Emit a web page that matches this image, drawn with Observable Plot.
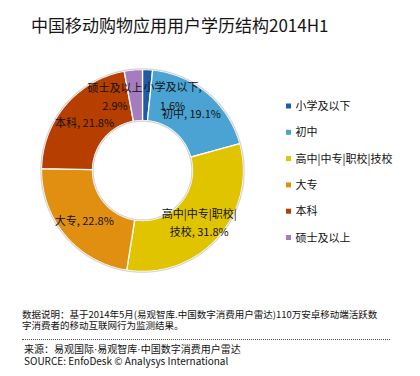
<!DOCTYPE html>
<html>
<head>
<meta charset="utf-8">
<script src="https://cdn.jsdelivr.net/npm/d3@7"></script>
<script src="https://cdn.jsdelivr.net/npm/@observablehq/plot@0.6"></script>
<style>
  html, body { margin: 0; padding: 0; background: #fff; }
  body { width: 420px; height: 376px; position: relative; overflow: hidden;
         font-family: "Noto Sans CJK SC", "Noto Sans", sans-serif; color: #111; }
  #title { position: absolute; left: 31px; top: 16px; font-size: 17px; line-height: 18px; white-space: nowrap; color: #151515; }
  #chart { position: absolute; left: 0; top: 44px; }
  #note { position: absolute; left: 22px; top: 309px; font-size: 9.5px; line-height: 10.5px; white-space: nowrap; }
  #rule { position: absolute; left: 22px; top: 339px; width: 368px; border-top: 1px dotted #555; }
  #source { position: absolute; left: 24px; top: 343px; font-size: 10px; line-height: 11px; white-space: nowrap; }
  .dot { font-family: "Liberation Sans", sans-serif; }
</style>
</head>
<body>
<div id="title"></div>
<div id="chart"></div>
<div id="note"></div>
<div id="rule"></div>
<div id="source"></div>
<script>
// Education level of China's mobile shopping app users, 2014 H1
const titleText = "中国移动购物应用用户学历结构2014H1";
const categories = ["小学及以下", "初中", "高中|中专|职校|技校", "大专", "本科", "硕士及以上"];
const shares = [1.6, 19.1, 31.8, 22.8, 21.8, 2.9];
const colors = ["#1d5ca6", "#4aa3d3", "#e1c400", "#e08f10", "#b63f00", "#a57cbf"];
const noteLines = [
  "数据说明：基于2014年5月(易观智库.中国数字消费用户雷达)110万安卓移动端活跃数",
  "字消费者的移动互联网行为监测结果。"
];
const sourceLines = [
  "来源：易观国际·易观智库·中国数字消费用户雷达",
  "SOURCE: EnfoDesk © Analysys International"
];

document.getElementById("title").textContent = titleText;
document.getElementById("note").innerHTML = noteLines.join("<br>");
// narrow separator dots in the source line
document.getElementById("source").innerHTML = sourceLines
  .map(s => s.replace(/·/g, '<span class="dot">·</span>'))
  .join("<br>");

// Donut geometry, in page pixels (the SVG spans page rows 44..296)
const top0 = 44, svgH = 252, W = 420;
const cx = 142, cy = 170, R = 101, r0 = 50;
const fs = 11;
const total = d3.sum(shares);

let acc = 0;
const slices = categories.map((name, i) => {
  const a0 = acc / total * 2 * Math.PI;
  acc += shares[i];
  const a1 = acc / total * 2 * Math.PI;
  return {name, value: shares[i], a0, a1, mid: (a0 + a1) / 2};
});

const pt = (rad, a) => [cx + rad * Math.sin(a), cy - rad * Math.cos(a)];

// Each slice as a closed ring-sector polygon
const ring = slices.flatMap(s => {
  const n = Math.max(2, Math.ceil((s.a1 - s.a0) / (Math.PI / 180)));
  const pts = [];
  for (let k = 0; k <= n; k++) pts.push(pt(R, s.a0 + (s.a1 - s.a0) * k / n));
  for (let k = n; k >= 0; k--) pts.push(pt(r0, s.a0 + (s.a1 - s.a0) * k / n));
  pts.push(pts[0]);
  return pts.map(([x, y]) => ({name: s.name, x, y}));
});

// Soft edge around the outer rim and the hole
const edge = [R + 0.6, r0 - 0.6].flatMap((rad, j) =>
  d3.range(0, 361, 2).map(deg => {
    const [x, y] = pt(rad, deg * Math.PI / 180);
    return {ring: j, x, y};
  })
);

// Slice labels: "name, value%", wrapped and centred line by line.
// Labels of thin slices sit beside the slice's top edge.
const labelR = 76;
const labels = slices.map(s => {
  const sin = Math.sin(s.mid);
  const pct = `${s.value}%`;
  let text, x;
  if (s.value < 5) {
    const right = sin > 0;
    const first = `${s.name}${right ? "," : ""}`;
    const half = (s.name.length * fs + (right ? 3 : 0)) / 2;
    x = right ? cx + 1 + half : cx - half;
    text = `${first}\n${pct}`;
  } else {
    x = cx + labelR * sin;
    if (s.name.length > 8) {
      const cut = s.name.lastIndexOf("|") + 1;
      text = `${s.name.slice(0, cut)}\n${s.name.slice(cut)}, ${pct}`;
    } else {
      text = `${s.name}, ${pct}`;
    }
  }
  return {text, x, y: cy - labelR * Math.cos(s.mid)};
});

// Legend entries on the right
const legend = categories.map((name, i) => ({name, y: 106 + i * 26.3}));

const chart = Plot.plot({
  width: W,
  height: svgH,
  margin: 0,
  x: {domain: [0, W], axis: null},
  y: {domain: [top0 + svgH, top0], axis: null},
  color: {domain: categories, range: colors},
  style: {fontFamily: "'Noto Sans CJK SC', sans-serif", fontSize: "11px", color: "#111", background: "#fff"},
  marks: [
    Plot.line(ring, {x: "x", y: "y", z: "name", fill: "name", stroke: "#fff", strokeWidth: 1.3, curve: "linear"}),
    Plot.line(edge, {x: "x", y: "y", z: "ring", stroke: "#c9c9c9", strokeWidth: 1.2, strokeOpacity: 0.8}),
    Plot.text(labels, {x: "x", y: "y", text: "text", textAnchor: "middle", lineHeight: 1.68, fontSize: fs, fill: "#111"}),
    Plot.rect(legend, {x1: 286, x2: 291, y1: d => d.y - 2.5, y2: d => d.y + 2.5, fill: "name"}),
    Plot.text(legend, {x: 295, y: "y", text: "name", textAnchor: "start", fontSize: fs, fill: "#111"})
  ]
});
document.getElementById("chart").appendChild(chart);
</script>
</body>
</html>
